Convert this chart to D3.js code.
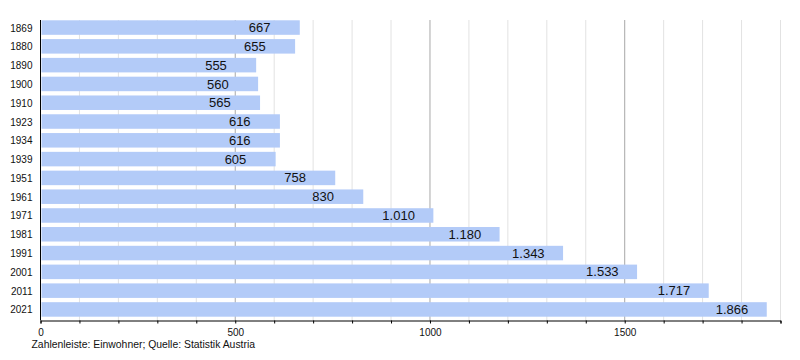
<!DOCTYPE html>
<html><head><meta charset="utf-8">
<script src="https://cdn.jsdelivr.net/npm/d3@7"></script>
<style>body{margin:0;background:#fff}svg{display:block}text{font-family:"Liberation Sans",Arial,sans-serif}</style>
</head><body><svg id="c" width="800" height="360"></svg>
<script>
const years = ["1869","1880","1890","1900","1910","1923","1934","1939","1951","1961","1971","1981","1991","2001","2011","2021"];
const population = [667,655,555,560,565,616,616,605,758,830,1010,1180,1343,1533,1717,1866];
const valueLabels = ["667","655","555","560","565","616","616","605","758","830","1.010","1.180","1.343","1.533","1.717","1.866"];
const xTicks = [0,500,1000,1500];
const caption = "Zahlenleiste: Einwohner; Quelle: Statistik Austria";

const svg = d3.select("#c");
const x = d3.scaleLinear().domain([0,1900]).range([40,780]);
const y = d3.scaleBand().domain(years).range([20.3,316.7]).paddingInner(0.228).paddingOuter(0);
const plotTop = 20, plotBottom = 320.5;

// grid
const minor = d3.range(100,1901,100).filter(v=>v%500!==0);
svg.append("g").selectAll("line").data(minor).join("line")
  .attr("x1",d=>x(d)+0.5).attr("x2",d=>x(d)+0.5).attr("y1",plotTop).attr("y2",plotBottom)
  .attr("stroke","#e2e2e2").attr("stroke-width",1);
svg.append("g").selectAll("line").data(xTicks.filter(v=>v>0)).join("line")
  .attr("x1",d=>x(d)+0.5).attr("x2",d=>x(d)+0.5).attr("y1",plotTop).attr("y2",plotBottom)
  .attr("stroke","#a8a8a8").attr("stroke-width",1);

// bars
svg.append("g").selectAll("rect").data(population).join("rect")
  .attr("x",x(0)+1.5).attr("y",(d,i)=>y(years[i]))
  .attr("width",d=>x(d)-x(0)-1.5).attr("height",y.bandwidth())
  .attr("fill","#b3cbf8");

// value labels
svg.append("g").selectAll("text").data(population).join("text")
  .attr("x",d=>x(d)-51).attr("y",(d,i)=>y(years[i])+y.bandwidth()/2+4.6)
  .attr("font-size",13).attr("fill","#111")
  .text((d,i)=>valueLabels[i]);

// year labels
svg.append("g").selectAll("text").data(years).join("text")
  .attr("x",32.5).attr("y",d=>y(d)+y.bandwidth()/2+4)
  .attr("text-anchor","end").attr("font-size",10).attr("fill","#111")
  .text(d=>d);

// axes
const xAxis = d3.axisBottom(x).tickValues(d3.range(0,1901,100)).tickSize(3)
  .tickFormat(d=>xTicks.includes(d)?String(d):"");
const ga = svg.append("g").attr("transform",`translate(0.5,${plotBottom})`).call(xAxis);
ga.select(".domain").attr("stroke","#000");
ga.selectAll(".tick line").attr("stroke","#000");
ga.selectAll(".tick text").attr("font-size",10).attr("font-family","Liberation Sans, Arial, sans-serif").attr("fill","#111").attr("dy","0.95em");

svg.append("line").attr("x1",x(0)+0.5).attr("x2",x(0)+0.5).attr("y1",plotTop).attr("y2",plotBottom)
  .attr("stroke","#000").attr("stroke-width",1);

svg.append("text").attr("x",31.5).attr("y",348).attr("font-size",10.4).attr("fill","#111").text(caption);
</script></body></html>
